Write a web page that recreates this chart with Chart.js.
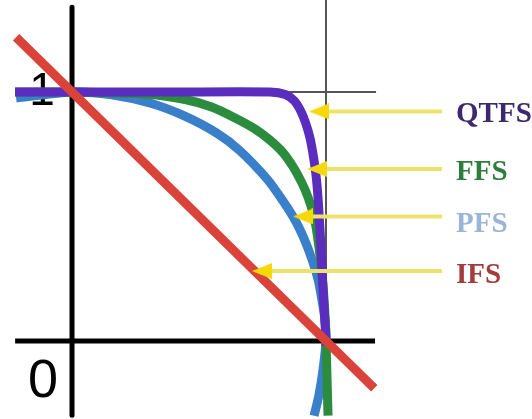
<!DOCTYPE html>
<html>
<head>
<meta charset="utf-8">
<script src="https://cdn.jsdelivr.net/npm/chart.js@4.4.1/dist/chart.umd.min.js"></script>
<style>
html,body{margin:0;padding:0;background:#fff;}
#wrap{width:532px;height:419px;position:relative;}
</style>
</head>
<body>
<div id="wrap"><canvas id="c"></canvas></div>
<script>
// ---- data (x, y in membership units) ----
const qtfsPts = [[-0.224,1.0],[0,1.0],[0.4,1.0],[0.78,1.0],[0.84,0.99],[0.875,0.965],[0.9,0.925],[0.92,0.875],[0.937,0.815],[0.949,0.75],[0.959,0.68],[0.966,0.61],[0.972,0.52],[0.979,0.4],[0.985,0.27],[0.992,0.14],[1.0,0.0],[1.0,-0.02]];
const ffsPts  = [[-0.224,1.0],[0,1.0],[0.3,0.991],[0.45,0.969],[0.55,0.94],[0.64,0.897],[0.72,0.852],[0.78,0.806],[0.83,0.757],[0.87,0.70],[0.905,0.635],[0.93,0.575],[0.955,0.49],[0.972,0.38],[0.986,0.25],[0.995,0.12],[1.0,0.0],[1.004,-0.15],[1.008,-0.3]];
const pfsPts  = [[-0.22,0.976],[0,1.0],[0.15,0.99],[0.31,0.955],[0.44,0.905],[0.57,0.835],[0.66,0.765],[0.77,0.648],[0.83,0.563],[0.88,0.482],[0.917,0.403],[0.945,0.327],[0.969,0.246],[0.984,0.165],[0.996,0.085],[1.0,0.0],[0.988,-0.117],[0.972,-0.218],[0.953,-0.3]];
const ifsPts  = [[-0.22,1.22],[1.19,-0.19]];
const axisH   = [[-0.224,0],[1.193,0]];
const axisV   = [[0,1.34],[0,-0.298]];
const guideV  = [[1,1.37],[1,0]];
const guideH  = [[0,1],[1.197,1]];
// arrows: y level, arrowhead centre x, tail x
const arrowY     = [0.922, 0.691, 0.50, 0.281];
const arrowHeadX = [0.972, 0.965, 0.909, 0.748];
const arrowTailX = 1.457;
// labels
const labelNames  = ['QTFS','FFS','PFS','IFS'];
const labelColors = ['#3b2a6e','#2f7d3c','#9ab5d8','#a33c3c'];
const labelX      = 1.512;
const labelY      = [0.88, 0.647, 0.438, 0.233];
const tickTexts   = ['1','0'];
const tickX       = [-0.118, -0.114];
const tickY       = [0.948, -0.225];

const toXY = a => a.map(p => ({x:p[0], y:p[1]}));

// arrowhead image (points left)
const head = document.createElement('canvas');
head.width = 20; head.height = 16;
(function(){
  const g = head.getContext('2d');
  g.fillStyle = '#f6d90a';
  g.beginPath(); g.moveTo(0,8); g.lineTo(20,0); g.lineTo(20,16); g.closePath(); g.fill();
})();

function lineDs(pts, color, width, order, tension){
  return {data: toXY(pts), borderColor: color, borderWidth: width, pointRadius: 0,
          showLine: true, fill: false, tension: tension||0, order: order,
          borderCapStyle: 'butt', borderJoinStyle: 'round'};
}

const datasets = [
  lineDs(guideV, '#555', 2, 8),
  lineDs(guideH, '#555', 2, 8),
  lineDs(axisH, '#000', 5, 7),
  lineDs(axisV, '#000', 5, 7),
  lineDs(pfsPts, '#3a7fc9', 9, 5, 0.25),
  lineDs(ffsPts, '#2a8c3c', 9, 4, 0.25),
  lineDs(qtfsPts, '#5a2dbe', 9, 3, 0.25),
  lineDs(ifsPts, '#d9433a', 9, 2),
];
arrowY.forEach((y,i)=>{
  datasets.push({
    data: [{x: arrowHeadX[i], y: y},{x: arrowTailX, y: y}],
    borderColor: '#eee36a', borderWidth: 4, showLine: true, fill: false,
    pointStyle: head, pointRadius: [10,0], order: 1, borderCapStyle: 'butt'
  });
});

const textPlugin = {
  id: 'texts',
  beforeDatasetsDraw(chart){
    const {ctx, scales:{x, y}} = chart;
    ctx.save();
    ctx.fillStyle = '#000';
    ctx.textAlign = 'center';
    ctx.textBaseline = 'alphabetic';
    ctx.font = '46px "Liberation Sans", Arial, sans-serif';
    ctx.fillText(tickTexts[0], x.getPixelForValue(tickX[0]), y.getPixelForValue(tickY[0]));
    ctx.font = '54px "Liberation Sans", Arial, sans-serif';
    ctx.fillText(tickTexts[1], x.getPixelForValue(tickX[1]), y.getPixelForValue(tickY[1]));
    ctx.restore();
  },
  afterDatasetsDraw(chart){
    const {ctx, scales:{x, y}} = chart;
    ctx.save();
    ctx.textAlign = 'left';
    ctx.textBaseline = 'alphabetic';
    ctx.font = 'bold 29px "Liberation Serif", "Times New Roman", serif';
    labelNames.forEach((t,i)=>{
      ctx.fillStyle = labelColors[i];
      ctx.fillText(t, x.getPixelForValue(labelX), y.getPixelForValue(labelY[i]));
    });
    ctx.restore();
  }
};

new Chart(document.getElementById('c'), {
  type: 'scatter',
  data: {datasets},
  options: {
    responsive: true, maintainAspectRatio: false, animation: false,
    layout: {padding: 0, autoPadding: false},
    plugins: {legend: {display: false}, tooltip: {enabled: false}},
    scales: {
      x: {type: 'linear', min: -0.2835, max: 1.811, display: false},
      y: {type: 'linear', min: -0.3133, max: 1.3695, display: false}
    }
  },
  plugins: [textPlugin]
});
</script>
</body>
</html>
